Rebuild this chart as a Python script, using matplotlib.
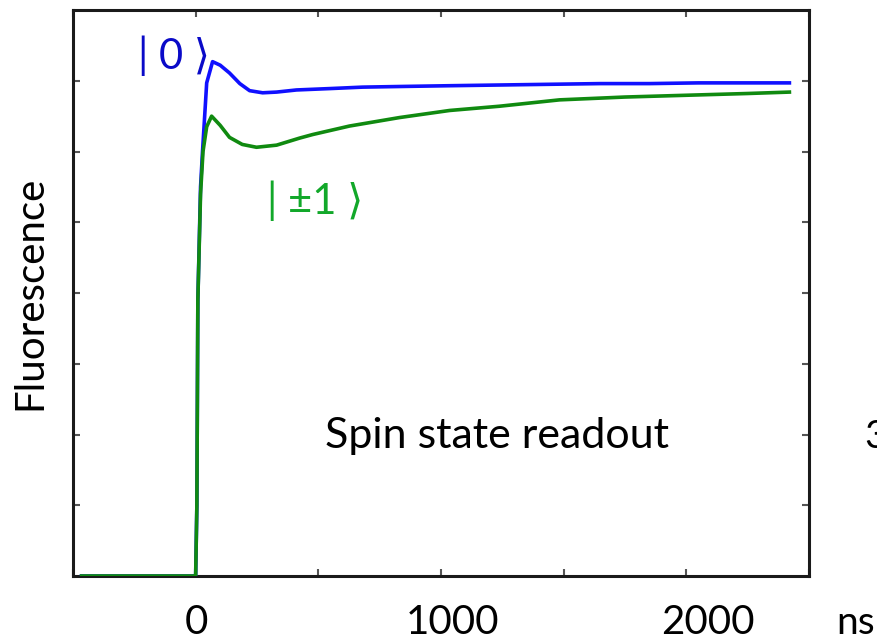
import matplotlib
matplotlib.use("Agg")
import matplotlib.pyplot as plt

plt.rcParams['font.family'] = ['Lato', 'DejaVu Sans']

# time axis (ns) and fluorescence
t_zero = [-465, 0, 5, 9, 20, 28, 45, 69, 100, 138, 180, 220, 273, 330, 411,
          550, 680, 850, 1035, 1238, 1442, 1650, 1850, 2049, 2250, 2420]
f_zero = [0, 0, 1.0, 3.9, 5.5, 6.0, 6.97, 7.27, 7.22, 7.11, 6.96, 6.86, 6.83,
          6.84, 6.87, 6.89, 6.91, 6.92, 6.93, 6.94, 6.95, 6.96, 6.96, 6.97,
          6.97, 6.97]

t_one = [-465, 0, 5, 9, 20, 30, 45, 65, 100, 138, 190, 248, 330, 424, 477,
         627, 831, 1035, 1238, 1483, 1750, 2049, 2250, 2420]
f_one = [0, 0, 1.0, 3.9, 5.4, 6.0, 6.35, 6.50, 6.37, 6.20, 6.10, 6.06, 6.09,
         6.19, 6.24, 6.36, 6.48, 6.58, 6.64, 6.73, 6.77, 6.80, 6.82, 6.84]

x_ticks = [-500, 0, 500, 1000, 1500, 2000, 2500]
y_ticks = [1, 2, 3, 4, 5, 6, 7]
label_ticks = [0, 1000, 2000]

fig = plt.figure(figsize=(8.77, 6.42), dpi=100)
ax = fig.add_axes([0.0832, 0.1028, 0.8393, 0.8816])

ax.plot(t_zero, f_zero, color='#1010ff', lw=2.6, zorder=3)
ax.plot(t_one, f_one, color='#108a10', lw=2.6, zorder=3)

ax.set_xlim(-500, 2500)
ax.set_ylim(0, 8)
ax.set_xticks(x_ticks)
ax.set_yticks(y_ticks)
ax.set_xticklabels([])
ax.set_yticklabels([])
ax.tick_params(direction='in', length=5, width=1.5, color='#555555',
               top=True, right=True)
for s in ax.spines.values():
    s.set_linewidth(2.2)
    s.set_color('#1a1a1a')

# the printed labels sit slightly off the tick marks
sec = ax.secondary_xaxis('bottom', functions=(lambda x: (x - 4) / 1.041,
                                               lambda v: 4 + 1.041 * v))
sec.set_xticks(label_ticks)
sec.set_xticklabels([str(v) for v in label_ticks])
sec.tick_params(length=0, labelsize=29, pad=20)
sec.spines['bottom'].set_visible(False)

ax.set_ylabel('Fluorescence', fontsize=29, labelpad=14)

ax.text(60, 7.36, '| 0 \u27e9', color='#0a0ac8', fontsize=30,
        ha='right', va='center')
ax.text(290, 5.31, '| \u00b11 \u27e9', color='#12a82a', fontsize=30,
        ha='left', va='center')
ax.text(1227, 1.98, 'Spin state readout', color='black', fontsize=31,
        ha='center', va='center')

fig.text(0.953, (642 - 623) / 642, 'ns', fontsize=28, ha='left', va='center')
fig.text(0.986, (642 - 437) / 642, '3', fontsize=28, ha='left', va='center')

fig.savefig('out.png', dpi=100, facecolor='white')
